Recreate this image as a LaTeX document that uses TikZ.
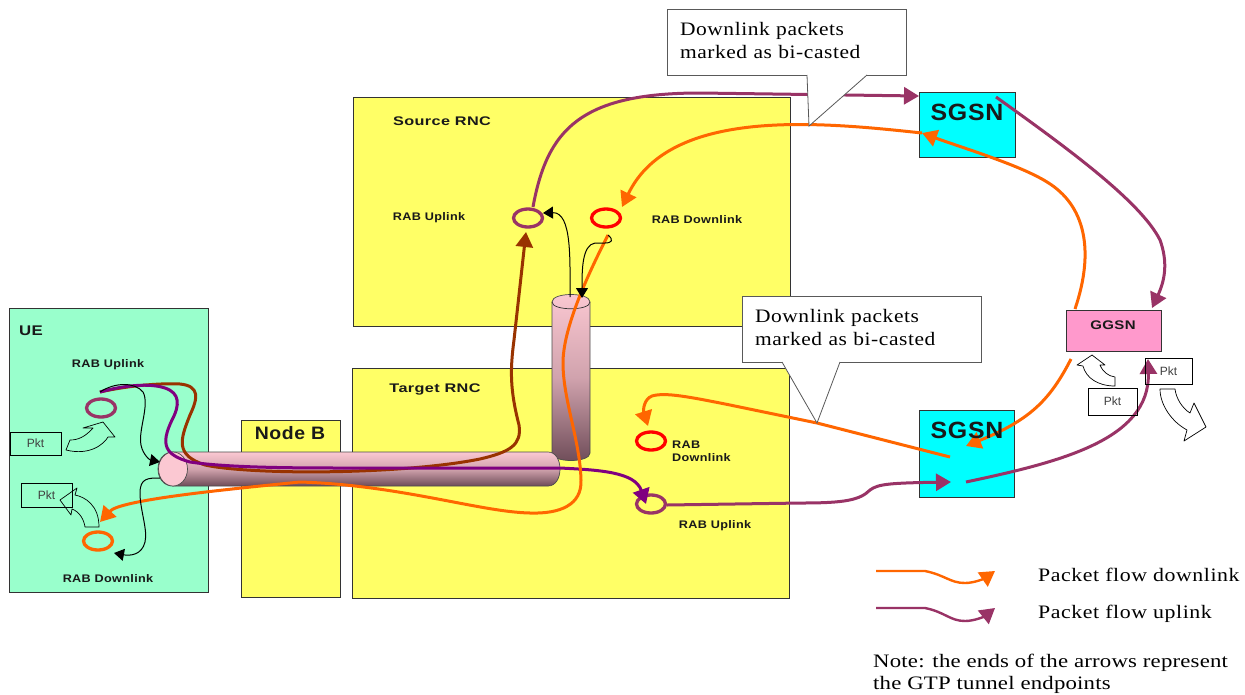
\documentclass[tikz,border=0pt]{standalone}
\usepackage{fontspec}
\setmainfont{Liberation Serif}
\setsansfont{Liberation Sans}
\usetikzlibrary{arrows.meta, shapes.geometric}

\definecolor{uegreen}{HTML}{99FFCC}
\definecolor{rncyellow}{HTML}{FFFF66}
\definecolor{sgsncyan}{HTML}{00FFFF}
\definecolor{ggsnpink}{HTML}{FF99CC}
\definecolor{floworange}{HTML}{FF6600}
\definecolor{flowplum}{HTML}{993366}
\definecolor{flowpurple}{HTML}{800080}
\definecolor{flowbrown}{HTML}{993300}
\definecolor{flowred}{HTML}{FF0000}
\definecolor{tubetop}{HTML}{FBC8D2}
\definecolor{tubebottom}{HTML}{6E4C58}

\tikzset{
    block/.style={draw=black!80, line width=1pt, inner sep=0pt, outer sep=0pt},
    pkt/.style={block, draw=black, font=\sffamily\fontsize{12}{14}\selectfont, text=black!75},
    ring/.style={ellipse, draw=#1, line width=3.3pt, minimum width=29pt, minimum height=18pt, inner sep=0pt},
    tube/.style={draw=black!70, line width=.7pt, top color=tubetop, bottom color=tubebottom, middle color=tubetop!70!tubebottom},
    hollow/.style={draw=black, line width=.7pt, line join=round},
    bigflow/.style={draw=#1, line width=3pt, -{Triangle[length=15pt, width=17pt]}},
    thinflow/.style={draw=black, line width=1pt, -{Triangle[length=10pt, width=12pt]}},
    callout/.style={block, draw=black!65, fill=white, align=left, font=\fontsize{19}{23}\selectfont\addfontfeature{LetterSpace=3,FakeStretch=1.13}},
    tail/.style={draw=black!65, fill=white, line width=.8pt},
    lbl/.style 2 args={font=\sffamily\bfseries\fontsize{#1}{13}\selectfont\addfontfeature{LetterSpace=3,FakeStretch=#2}, text=black!90, inner sep=0pt, align=left},
    legendtext/.style={font=\fontsize{19}{22}\selectfont\addfontfeature{LetterSpace=3,FakeStretch=1.15}, inner sep=0pt, anchor=west, align=left}
}

\begin{document}
\begin{tikzpicture}[x=1pt, y=-1pt]
    \useasboundingbox[fill=white] (0,0) rectangle (1245,694);

    % boxes
    \node[block, fill=uegreen, minimum width=199pt, minimum height=284pt] (ue) at (108.5,450) {};
    \node[block, fill=rncyellow, minimum width=99pt, minimum height=177pt] (nodeb) at (290.5,508.5) {};
    \node[block, fill=rncyellow, minimum width=437pt, minimum height=229pt] (source) at (571.5,211.5) {};
    \node[block, fill=rncyellow, minimum width=437pt, minimum height=230pt] (target) at (570.5,483) {};
    \node[block, fill=sgsncyan, minimum width=96pt, minimum height=65pt] (sgsntop) at (967,124.5) {};
    \node[block, fill=sgsncyan, minimum width=95pt, minimum height=87pt] (sgsnbottom) at (966.5,454) {};
    \node[block, fill=ggsnpink, minimum width=95pt, minimum height=41pt] (ggsn) at (1113.5,330.5) {};

    % tunnels
    \path[tube] (552,302) .. controls (552,292) and (590,292) .. (590,302) -- (590,453) .. controls (590,463) and (552,463) .. (552,453) -- cycle;
    \draw[draw=black!80, line width=.7pt] (552,302) .. controls (552,311) and (590,311) .. (590,302);
    \path[tube] (173,452) -- (548,452) .. controls (564,452) and (564,486) .. (548,486) -- (173,486) .. controls (153,486) and (153,452) .. (173,452) -- cycle;
    \node[ellipse, draw=black!70, fill=tubetop, line width=.7pt, minimum width=29pt, minimum height=34pt, inner sep=0pt] (tunnelcap) at (173,469) {};

    % tunnel ends
    \node[ring=flowplum] (ueup) at (101,408) {};
    \node[ring=floworange] (uedown) at (98,541) {};
    \node[ring=flowplum] (sourceup) at (528,218) {};
    \node[ring=flowred] (sourcedown) at (606,218) {};
    \node[ring=flowred] (targetdown) at (651,441) {};
    \node[ring=flowplum] (targetup) at (651,504) {};

    % free ends
    \coordinate (sgsntopin) at (919,96);
    \coordinate (sgsntopout) at (996,97);
    \coordinate (sgsntophead) at (922,133);
    \coordinate (ggsnin) at (1152,308);
    \coordinate (ggsnout) at (1075,309);
    \coordinate (ggsndown) at (1071,359);
    \coordinate (sgsndownin) at (966,446);
    \coordinate (sgsndownout) at (950,457);
    \coordinate (sgsnupin) at (951,482);
    \coordinate (sgsnupout) at (966,482);
    \coordinate (pktin) at (1148,359);
    \coordinate (sourcein) at (622,207);
    \coordinate (sourceout) at (608,235);
    \coordinate (sourcetop) at (533,207);
    \coordinate (uefork) at (100,392);
    \coordinate (capright) at (160,462);
    \coordinate (capleft) at (160,478);
    \coordinate (uehead) at (100,522);
    \coordinate (uedownhead) at (114,553);
    \coordinate (targethead) at (648,426);
    \coordinate (targettop) at (646,504);
    \coordinate (targetright) at (667,505);
    \coordinate (brownhead) at (526,232);
    \coordinate (tuberight) at (570,297);
    \coordinate (tubeleft) at (582,298);
    \coordinate (sourcethin) at (543,213);

    % uplink flows
    \draw[bigflow=flowbrown] (uefork) .. controls (130,385) and (165,383) .. (180,384) .. controls (200,386) and (198,398) .. (190,415) .. controls (180,440) and (175,455) .. (205,465) .. controls (250,475) and (400,475) .. (480,459) .. controls (510,452) and (522,445) .. (519,425) .. controls (510,390) and (510,370) .. (514,340) -- (brownhead);
    \draw[bigflow=flowpurple] (uefork) .. controls (125,385) and (150,383) .. (165,388) .. controls (180,393) and (180,405) .. (172,420) .. controls (160,445) and (165,455) .. (190,462) .. controls (230,468) and (300,468) .. (350,468) -- (560,468) .. controls (600,470) and (635,472) .. (targettop);
    \draw[bigflow=flowplum] (targetright) -- (802,503) .. controls (845,503) and (860,500) .. (870,490) .. controls (878,484) and (890,483) .. (sgsnupin);
    \draw[bigflow=flowplum] (sgsnupout) .. controls (1060,462) and (1150,440) .. (pktin);
    \draw[bigflow=flowplum] (sgsntopout) .. controls (1060,143) and (1140,200) .. (1160,240) .. controls (1168,262) and (1165,280) .. (ggsnin);
    \draw[bigflow=flowplum] (sourcetop) .. controls (547,130) and (580,93) .. (700,93) -- (sgsntopin);

    % downlink flows
    \draw[bigflow=floworange] (ggsnout) .. controls (1095,250) and (1085,205) .. (1047,182) .. controls (1020,165) and (960,147) .. (sgsntophead);
    \draw[bigflow=floworange] (sgsntophead) .. controls (820,122) and (670,107) .. (sourcein);
    \draw[bigflow=floworange] (ggsndown) .. controls (1050,400) and (1030,420) .. (sgsndownin);
    \draw[bigflow=floworange] (sgsndownout) -- (817,423) -- (730,405) .. controls (690,397) and (665,392) .. (652,396) .. controls (644,399) and (643,410) .. (targethead);
    \draw[bigflow=floworange] (sourceout) .. controls (585,280) and (563,330) .. (563,363) .. controls (563,400) and (580,440) .. (581,480) .. controls (582,505) and (560,514) .. (530,513) .. controls (480,512) and (400,485) .. (300,482) .. controls (220,490) and (120,500) .. (uehead);

    % inner arrows
    \draw[thinflow] (uefork) .. controls (115,382) and (135,382) .. (143,392) .. controls (150,405) and (138,430) .. (141,445) .. controls (143,455) and (150,460) .. (capright);
    \draw[thinflow] (capleft) .. controls (148,478) and (140,478) .. (140,493) .. controls (140,510) and (148,530) .. (145,542) .. controls (142,555) and (130,556) .. (uedownhead);
    \draw[thinflow] (tuberight) .. controls (570,260) and (572,212) .. (sourcethin);
    \draw[thinflow] (sourceout) .. controls (614,240) and (612,243) .. (605,243) -- (595,243) .. controls (582,245) and (582,270) .. (tubeleft);

    % packet arrows
    \draw[hollow] (66,450) -- (70,440) .. controls (78,440) and (85,437) .. (93,428) -- (83,428) -- (103,422) -- (115,437) -- (108,437) .. controls (104,444) and (90,456) .. (66,450) -- cycle;
    \draw[hollow] (99,527) -- (85,527) .. controls (84,520) and (80,512) .. (72,509) -- (71,515) -- (60,500) -- (77,488) -- (75,495) .. controls (85,497) and (99,505) .. (99,527) -- cycle;
    \draw[hollow] (1115,386) -- (1115,377) .. controls (1108,376) and (1103,372) .. (1100,365) -- (1105,365) -- (1092,355) -- (1077,365) -- (1083,366) .. controls (1086,378) and (1098,386) .. (1115,386) -- cycle;
    \draw[hollow] (1160,389) -- (1175,389) .. controls (1176,398) and (1182,408) .. (1190,413) -- (1194,403) -- (1206,427) -- (1184,441) -- (1187,430) .. controls (1172,422) and (1160,405) .. (1160,389) -- cycle;
    \node[pkt, minimum width=51pt, minimum height=23pt] (pktuetop) at (35.5,443.5) {Pkt};
    \node[pkt, minimum width=51pt, minimum height=24pt] (pktuebottom) at (46.5,495) {Pkt};
    \node[pkt, minimum width=49pt, minimum height=27pt] (pktggsnleft) at (1112.5,401.5) {Pkt};
    \node[pkt, minimum width=47pt, minimum height=26pt] (pktggsnright) at (1168.5,371) {Pkt};

    % callouts
    \node[callout, minimum width=239pt, minimum height=66pt, text width=213pt] (noteup) at (786.5,42) {Downlink packets\\marked as bi-casted\\[-19pt]\mbox{}};
    \draw[tail] (807,75) -- (809,126) -- (867,75);
    \node[callout, minimum width=239pt, minimum height=66pt, text width=213pt] (notedown) at (861.5,329) {Downlink packets\\marked as bi-casted\\[-19pt]\mbox{}};
    \draw[tail] (782,362) -- (817,423) -- (840,362);

    % labels
    \node[lbl={14}{1.2}] (uelabel) at (31,331) {UE};
    \node[lbl={11}{1.15}] (ueuplabel) at (108,365) {RAB Uplink};
    \node[lbl={11}{1.15}] (uedownlabel) at (108,579) {RAB Downlink};
    \node[lbl={18}{1.08}] (nodeblabel) at (290,433) {Node B};
    \node[lbl={12.5}{1.3}] (sourcelabel) at (442,121) {Source RNC};
    \node[lbl={11}{1.15}] (sourceuplabel) at (429,218) {RAB Uplink};
    \node[lbl={11}{1.15}] (sourcedownlabel) at (697,220) {RAB Downlink};
    \node[lbl={12.5}{1.3}] (targetlabel) at (435,389) {Target RNC};
    \node[lbl={11}{1.15}, anchor=north west] (targetdownlabel) at (672,441) {RAB\\Downlink};
    \node[lbl={11}{1.15}] (targetuplabel) at (715,526) {RAB Uplink};
    \node[lbl={23.5}{1.06}] (sgsntoplabel) at (967,112) {SGSN};
    \node[lbl={23.5}{1.06}] (sgsnbottomlabel) at (967,430) {SGSN};
    \node[lbl={12.5}{1.2}] (ggsnlabel) at (1113,325) {GGSN};

    % legend
    \coordinate (legenddownstart) at (876,571);
    \coordinate (legenddownend) at (995,571);
    \coordinate (legendupstart) at (876,608);
    \coordinate (legendupend) at (995,608);
    \draw[bigflow=floworange, line width=2.4pt] (legenddownstart) -- (925,571) .. controls (945,575) and (950,583) .. (965,583) .. controls (975,583) and (985,578) .. (legenddownend);
    \draw[bigflow=flowplum, line width=2.4pt] (legendupstart) -- (925,608) .. controls (945,612) and (950,621) .. (965,621) .. controls (975,621) and (985,616) .. (legendupend);
    \node[legendtext] (legenddown) at (1038,575) {Packet flow downlink};
    \node[legendtext] (legendup) at (1038,614) {Packet flow uplink};
    \node[legendtext, font=\fontsize{19}{22}\selectfont\addfontfeature{LetterSpace=1,FakeStretch=1.2}] (notetext) at (873,674) {Note: the ends of the arrows represent\\the GTP tunnel endpoints};
\end{tikzpicture}
\end{document}
